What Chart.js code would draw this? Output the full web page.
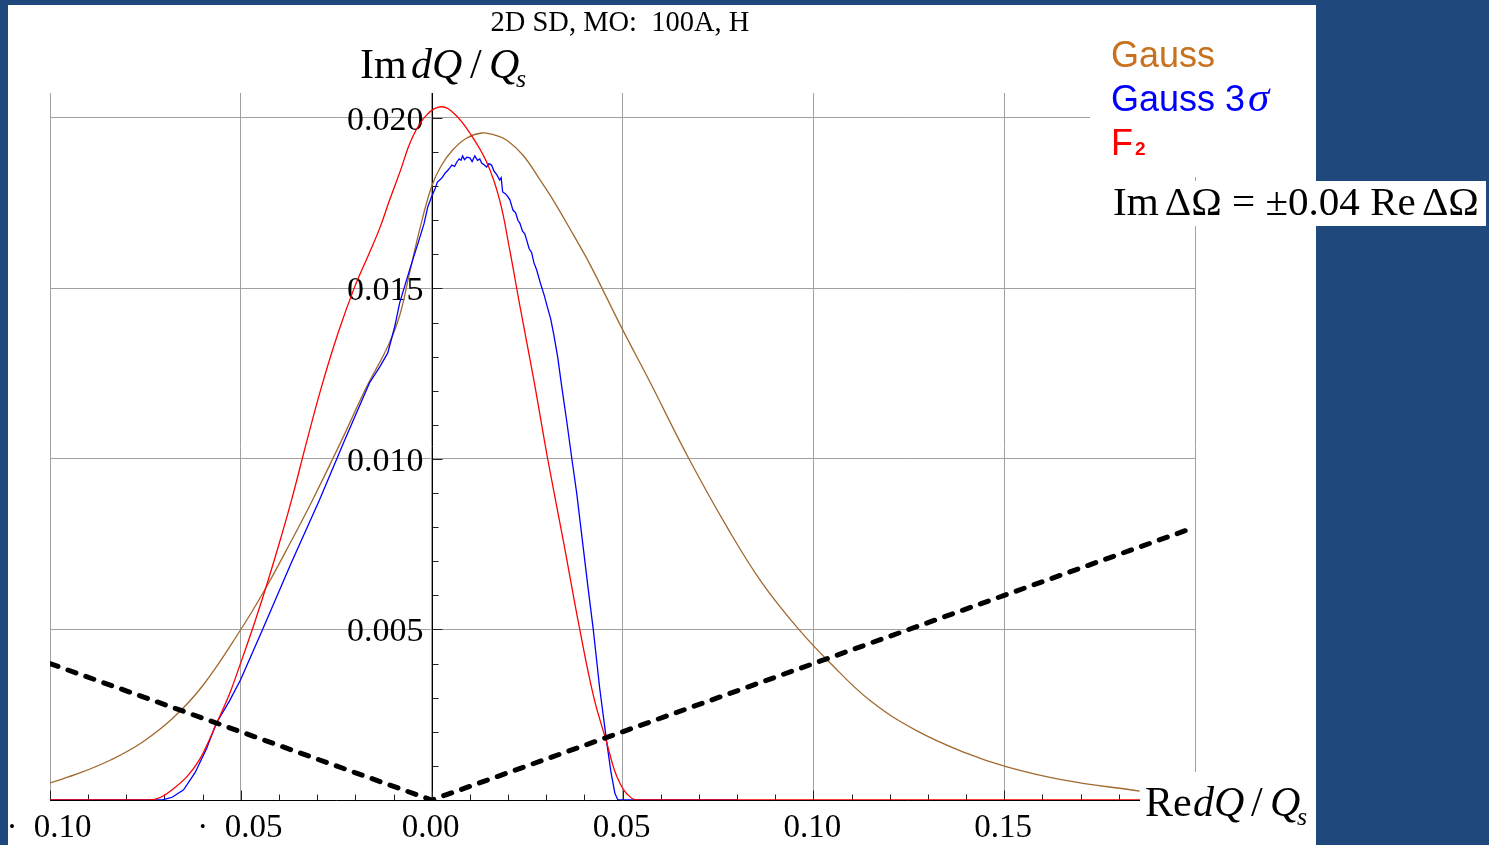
<!DOCTYPE html>
<html>
<head>
<meta charset="utf-8">
<title>2D SD, MO: 100A, H</title>
<script src="https://cdn.jsdelivr.net/npm/chart.js@4/dist/chart.umd.min.js"></script>
<style>
  html, body { margin: 0; padding: 0; background: #1F497D; overflow: hidden; }
  canvas { display: block; position: absolute; left: 0; top: 0; }
</style>
</head>
<body>
<canvas id="c" width="1489" height="845"></canvas>
<script>
// ---- Stability diagram data: Re dQ/Qs (x) vs Im dQ/Qs (y) ----

// Gaussian distribution
const gaussRe = [-0.100, -0.092, -0.084, -0.076, -0.068, -0.060, -0.050, -0.0438, -0.0370, -0.0312,
  -0.0240, -0.0171, -0.0115, -0.0084, -0.0058, -0.0031, 0.0000, 0.0025, 0.0055, 0.0090,
  0.0131, 0.0165, 0.0197, 0.0240, 0.0283, 0.0318, 0.0370, 0.0415, 0.0500,
  0.0570, 0.0672, 0.0774, 0.0866, 0.0966, 0.1037, 0.1147, 0.1268, 0.1399, 0.1507, 0.1653, 0.1855];
const gaussIm = [0.00050, 0.00080, 0.00118, 0.00168, 0.00238, 0.00335, 0.00500, 0.00615, 0.00755, 0.00880,
  0.01045, 0.01210, 0.01330, 0.01420, 0.01545, 0.01675, 0.01800, 0.01860, 0.01906, 0.01940,
  0.01956, 0.01950, 0.01935, 0.01890, 0.01820, 0.01760, 0.01660, 0.01570, 0.01380,
  0.01230, 0.01005, 0.00800, 0.00636, 0.00495, 0.00410, 0.00293, 0.00205, 0.00138, 0.00097, 0.00059, 0.00026];

// Gaussian truncated at 3 sigma (tracked numerically, hence the ripple)
const g3Re = [-0.100, -0.0706, -0.068, -0.065, -0.062, -0.059, -0.0564, -0.0530, -0.0501, -0.0443,
  -0.0370, -0.0294, -0.0230, -0.0163, -0.0136, -0.0115, -0.0097, -0.0084, -0.0058, -0.0031,
  -0.0020, -0.0010, 0.0000, 0.0008, 0.0015, 0.0021, 0.0028, 0.0035, 0.0042, 0.0047, 0.0053,
  0.0060, 0.0066, 0.0072, 0.0077, 0.0081, 0.0086, 0.0092, 0.0100, 0.0106, 0.0113, 0.0120,
  0.0126, 0.0131, 0.0138, 0.0144, 0.0150, 0.0157, 0.0163, 0.0171, 0.0178, 0.0182, 0.0186,
  0.0193, 0.0199, 0.0205, 0.0213, 0.0220, 0.0226, 0.0231, 0.0238, 0.0244, 0.0249, 0.0255,
  0.0262, 0.0268, 0.0275, 0.0285, 0.0295, 0.0303, 0.0312, 0.0320, 0.0330, 0.0341, 0.0354,
  0.0367, 0.0380, 0.0395, 0.0410, 0.0423, 0.0440, 0.0459, 0.0470, 0.0480, 0.0488, 0.0800];
const g3Im = [0, 0, 0.00008, 0.00030, 0.00080, 0.00150, 0.00226, 0.00290, 0.00352, 0.00500,
  0.00690, 0.00880, 0.01050, 0.01223, 0.01270, 0.01311, 0.01387, 0.01457, 0.01554, 0.01650,
  0.01690, 0.01740, 0.01770, 0.01790, 0.01812, 0.01818, 0.01826, 0.01838, 0.01846, 0.01853, 0.01862,
  0.01858, 0.01871, 0.01880, 0.01876, 0.01889, 0.01878, 0.01885, 0.01883, 0.01872, 0.01889, 0.01876,
  0.01880, 0.01868, 0.01862, 0.01856, 0.01866, 0.01862, 0.01845, 0.01833, 0.01818, 0.01825, 0.01783,
  0.01778, 0.01770, 0.01760, 0.01730, 0.01722, 0.01700, 0.01692, 0.01668, 0.01660, 0.01642, 0.01618,
  0.01605, 0.01575, 0.01555, 0.01515, 0.01480, 0.01446, 0.01410, 0.01365, 0.01300, 0.01211, 0.01110,
  0.01003, 0.00900, 0.00760, 0.00620, 0.00504, 0.00330, 0.00167, 0.00080, 0.00020, 0, 0];

// F2 distribution
const f2Re = [-0.100, -0.074, -0.071, -0.068, -0.064, -0.0609, -0.0585, -0.0562, -0.0530, -0.0501,
  -0.0470, -0.0438, -0.0400, -0.0367, -0.0330, -0.0289, -0.0245, -0.0202, -0.0165, -0.0136,
  -0.0110, -0.0084, -0.0050, -0.0013, 0.0025, 0.0060, 0.0100, 0.0144, 0.0178, 0.0205, 0.0231,
  0.0268, 0.0304, 0.0345, 0.0388, 0.0425, 0.0459, 0.0478, 0.0493, 0.0510, 0.0538, 0.1900];
const f2Im = [0, 0, 0.00008, 0.00030, 0.00070, 0.00117, 0.00170, 0.00229, 0.00310, 0.00400,
  0.00500, 0.00610, 0.00750, 0.00880, 0.01040, 0.01210, 0.01370, 0.01504, 0.01600, 0.01677,
  0.01760, 0.01839, 0.01944, 0.02009, 0.02033, 0.02012, 0.01956, 0.01871, 0.01760, 0.01610, 0.01450,
  0.01230, 0.01000, 0.00760, 0.00500, 0.00300, 0.00167, 0.00090, 0.00050, 0.00020, 0, 0];

// Im dOmega = +-0.04 Re dOmega
const stabRe = [-0.10, 0.00, 0.20];
const stabIm = [0.004, 0.000, 0.008];

// Axis ticks and labels
const xTickValues = [-0.10, -0.05, 0.00, 0.05, 0.10, 0.15];
const xTickLabels = ['\u00B7  0.10', '\u00B7  0.05', '0.00', '0.05', '0.10', '0.15'];
const yTickValues = [0.005, 0.010, 0.015, 0.020];
const yTickLabels = ['0.005', '0.010', '0.015', '0.020'];

const titleText = '2D SD, MO:  100A, H';
const legendItems = [
  { name: 'Gauss', color: '#c8711e' },
  { name: 'Gauss 3', sym: '\u03C3', color: '#0000ff' },
  { name: 'F', sub: '2', color: '#ff0000' }
];

const SERIF = '"Liberation Serif", "Times New Roman", serif';
const SANS = '"Liberation Sans", Arial, sans-serif';

const pts = (xs, ys) => xs.map((x, i) => ({ x: x, y: ys[i] }));

function runs(ctx, x, y, list) {
  list.forEach(r => {
    ctx.font = r.font;
    ctx.fillStyle = r.color || '#000';
    const sx = r.x !== undefined ? r.x : x;
    ctx.fillText(r.text, sx, y + (r.dy || 0));
    x = sx + ctx.measureText(r.text).width + (r.gap || 0);
  });
  return x;
}

const decor = {
  id: 'decor',
  beforeDraw(chart) {
    const ctx = chart.ctx;
    ctx.save();
    ctx.fillStyle = '#1F497D';
    ctx.fillRect(0, 0, chart.width, chart.height);
    ctx.fillStyle = '#ffffff';
    ctx.fillRect(8, 5, 1308, 840);
    ctx.restore();
  },
  beforeDatasetsDraw(chart) {
    const { ctx, scales: { x, y } } = chart;
    const ax = Math.round(x.getPixelForValue(0)) + 0.5;
    const ay = Math.round(y.getPixelForValue(0)) + 0.5;
    ctx.save();
    ctx.strokeStyle = '#000';
    ctx.lineWidth = 1;
    ctx.beginPath();
    ctx.moveTo(x.left, ay); ctx.lineTo(x.right, ay);
    ctx.moveTo(ax, y.top); ctx.lineTo(ax, ay);
    ctx.stroke();
    ctx.strokeStyle = '#222';
    ctx.beginPath();
    for (let i = -10; i <= 18; i++) {
      const px = Math.round(x.getPixelForValue(i / 100)) + 0.5;
      const len = i % 5 === 0 ? 10 : 6;
      ctx.moveTo(px, ay); ctx.lineTo(px, ay - len);
    }
    for (let i = 1; i <= 20; i++) {
      const py = Math.round(y.getPixelForValue(i / 1000)) + 0.5;
      const len = i % 5 === 0 ? 10 : 6;
      ctx.moveTo(ax, py); ctx.lineTo(ax + len, py);
    }
    ctx.stroke();

    // tick labels
    ctx.fillStyle = '#000';
    ctx.font = '33px ' + SERIF;
    ctx.textAlign = 'center';
    ctx.textBaseline = 'alphabetic';
    xTickValues.forEach((v, i) => {
      ctx.fillText(xTickLabels[i], x.getPixelForValue(v) - 1, ay + 36);
    });
    ctx.font = '34px ' + SERIF;
    ctx.textAlign = 'right';
    yTickValues.forEach((v, i) => {
      ctx.fillText(yTickLabels[i], ax - 9, y.getPixelForValue(v) + 12);
    });
    ctx.restore();
  },
  afterDraw(chart) {
    const ctx = chart.ctx;
    ctx.save();
    ctx.textBaseline = 'alphabetic';
    ctx.textAlign = 'left';

    // title
    ctx.font = '28.5px ' + SERIF;
    ctx.fillStyle = '#000';
    ctx.textAlign = 'center';
    ctx.fillText(titleText, 620, 31);
    ctx.textAlign = 'left';

    // y axis label
    const it = 'italic 42px ' + SERIF, up = '42px ' + SERIF, sb = 'italic 26px ' + SERIF;
    runs(ctx, 0, 78, [
      { text: 'Im', font: up, x: 360 },
      { text: 'dQ', font: it, x: 411 },
      { text: '/', font: up, x: 470 },
      { text: 'Q', font: it, x: 489 },
      { text: 's', font: sb, x: 516, dy: 9 }
    ]);

    // x axis label on a white patch
    ctx.fillStyle = '#fff';
    ctx.fillRect(1140, 772, 176, 73);
    runs(ctx, 0, 816, [
      { text: 'Re', font: up, x: 1145 },
      { text: 'dQ', font: it, x: 1193 },
      { text: '/', font: up, x: 1251 },
      { text: 'Q', font: it, x: 1270 },
      { text: 's', font: sb, x: 1297, dy: 9 }
    ]);

    // legend
    ctx.fillStyle = '#fff';
    ctx.fillRect(1090, 28, 226, 149);
    const lf = '36px ' + SANS;
    const baseY = [67, 111, 155];
    legendItems.forEach((item, i) => {
      const list = [{ text: item.name, font: lf, color: item.color, x: 1111 }];
      if (item.sym) { list[0].gap = 3; list.push({ text: item.sym, font: 'italic 43px ' + SERIF, color: item.color }); }
      if (item.sub) { list[0].gap = 2; list.push({ text: item.sub, font: 'bold 19px ' + SANS, color: item.color }); }
      runs(ctx, 1111, baseY[i], list);
    });

    // stability-line annotation
    ctx.fillStyle = '#fff';
    ctx.fillRect(1110, 181, 376, 45);
    const parts = [['Im', 6], ['\u0394\u03A9', 0], [' = ', 0], ['\u00B10.04', 0], [' Re', 6], ['\u0394\u03A9', 0]];
    ctx.font = '40px ' + SERIF;
    let w = 0;
    parts.forEach(p => { w += ctx.measureText(p[0]).width + p[1]; });
    const size = 40 * 366 / w;
    const f = size.toFixed(2) + 'px ' + SERIF;
    runs(ctx, 1113, 215, parts.map(p => ({ text: p[0], font: f, gap: p[1] * size / 40 })));
    ctx.restore();
  }
};

new Chart(document.getElementById('c'), {
  type: 'line',
  data: {
    datasets: [
      { label: 'Im \u0394\u03A9 = \u00B10.04 Re \u0394\u03A9', data: pts(stabRe, stabIm), borderColor: '#000',
        borderWidth: 5, borderDash: [8.5, 10.5], borderCapStyle: 'round', tension: 0, pointRadius: 0 },
      { label: 'F2', data: pts(f2Re, f2Im), borderColor: '#ff0000', borderWidth: 1.3,
        tension: 0.4, pointRadius: 0 },
      { label: 'Gauss 3\u03C3', data: pts(g3Re, g3Im), borderColor: '#0000ff', borderWidth: 1.3,
        tension: 0, pointRadius: 0 },
      { label: 'Gauss', data: pts(gaussRe, gaussIm), borderColor: '#a2692f', borderWidth: 1.3,
        tension: 0.4, pointRadius: 0 }
    ]
  },
  options: {
    responsive: false,
    animation: false,
    devicePixelRatio: 1,
    events: [],
    layout: { padding: { left: 50, right: 294, top: 93, bottom: 45 } },
    plugins: { legend: { display: false }, tooltip: { enabled: false }, title: { display: false } },
    scales: {
      x: {
        type: 'linear', position: { y: 0 }, min: -0.1, max: 0.2,
        ticks: { display: false, stepSize: 0.05, includeBounds: false },
        grid: { color: '#a0a0a0', lineWidth: 1, drawTicks: false },
        border: { display: false }
      },
      y: {
        type: 'linear', position: { x: 0 }, min: 0, max: 0.020733,
        ticks: { display: false, stepSize: 0.005, includeBounds: false },
        grid: { color: '#a0a0a0', lineWidth: 1, drawTicks: false },
        border: { display: false }
      }
    }
  },
  plugins: [decor]
});
</script>
</body>
</html>
